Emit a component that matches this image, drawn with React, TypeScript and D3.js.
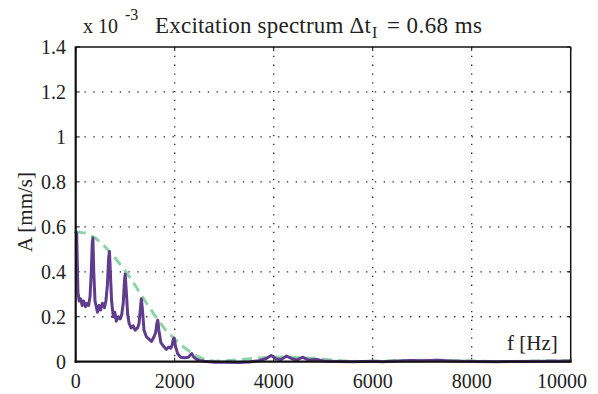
import React from "react";
import * as d3 from "d3";

const measFreq = [0, 20, 45, 70, 100, 130, 160, 200, 230, 260, 290, 315, 335, 348, 365, 390, 420, 440, 470, 500, 540, 580, 610, 640, 665, 682, 700, 725, 760, 790, 820, 860, 900, 930, 960, 985, 1000, 1020, 1050, 1080, 1120, 1160, 1200, 1250, 1280, 1305, 1325, 1345, 1380, 1430, 1480, 1530, 1580, 1615, 1640, 1658, 1680, 1720, 1770, 1830, 1880, 1920, 1950, 1972, 1988, 2015, 2060, 2120, 2200, 2280, 2315, 2345, 2380, 2430, 2500, 2600, 2700, 2800, 3000, 3300, 3500, 3700, 3850, 3950, 4050, 4150, 4260, 4380, 4480, 4580, 4700, 4870, 5000, 5300, 5600, 6000, 6200, 6500, 6800, 7000, 7300, 7600, 8000, 8500, 9000, 9500, 10000];
const measAmp = [0.58, 0.57, 0.31, 0.27, 0.28, 0.25, 0.27, 0.245, 0.26, 0.25, 0.29, 0.40, 0.53, 0.55, 0.40, 0.27, 0.24, 0.22, 0.25, 0.23, 0.26, 0.24, 0.27, 0.34, 0.46, 0.49, 0.40, 0.27, 0.20, 0.22, 0.18, 0.20, 0.19, 0.21, 0.26, 0.36, 0.39, 0.32, 0.21, 0.17, 0.15, 0.16, 0.14, 0.15, 0.17, 0.23, 0.28, 0.24, 0.14, 0.11, 0.10, 0.09, 0.11, 0.13, 0.17, 0.185, 0.14, 0.085, 0.07, 0.055, 0.065, 0.06, 0.075, 0.10, 0.105, 0.07, 0.035, 0.02, 0.018, 0.02, 0.03, 0.036, 0.022, 0.012, 0.006, 0.002, 0.0, -0.002, -0.003, -0.004, -0.001, 0.004, 0.014, 0.028, 0.012, 0.01, 0.025, 0.012, 0.008, 0.02, 0.008, 0.01, 0.003, 0.001, 0.0, 0.002, 0.0, 0.003, 0.005, 0.004, 0.006, 0.003, 0.001, 0.0, 0.001, 0.002, 0.003];

const envFreq = [0, 200, 400, 600, 800, 1000, 1200, 1400, 1600, 1800, 2000, 2200, 2400, 2600, 2800, 3000, 3300, 3600, 3900, 4200, 4500, 4800, 5100, 5400, 5700, 6000, 6500, 7000, 7500, 8000, 8400, 8800, 9200, 9600, 10000];
const envAmp = [0.578, 0.572, 0.55, 0.51, 0.46, 0.405, 0.34, 0.27, 0.205, 0.145, 0.10, 0.062, 0.03, 0.01, 0.002, 0.003, 0.009, 0.015, 0.019, 0.021, 0.019, 0.015, 0.009, 0.004, 0.001, 0.002, 0.005, 0.007, 0.006, 0.004, 0.001, 0.001, 0.003, 0.004, 0.004];

const xTicks = [0, 2000, 4000, 6000, 8000, 10000];
const yTicks = [0, 0.2, 0.4, 0.6, 0.8, 1, 1.2, 1.4];

const W = 598, H = 394;
const L = 75.7, R = 570.7, T = 47, B = 361.7;

export default function App() {
  const x = d3.scaleLinear().domain([0, 10000]).range([L, R]);
  const y = d3.scaleLinear().domain([0, 1.4]).range([B, T]);
  const line = d3.line<[number, number]>().x(d => x(d[0])).y(d => y(d[1]));
  const meas = line(measFreq.map((f, i) => [f, measAmp[i]]) as [number, number][]) || "";
  const env = line(envFreq.map((f, i) => [f, envAmp[i]]) as [number, number][]) || "";
  const font = "'Liberation Serif', 'Times New Roman', serif";
  const fs = 20;
  return (
    <svg width={W} height={H} style={{ position: "absolute", left: 0, top: 0, background: "#fff" }} fontFamily={font}>
      <rect x={0} y={0} width={W} height={H} fill="#fff" />
      {xTicks.slice(1, -1).map(t => (
        <line key={"gx" + t} x1={x(t)} x2={x(t)} y1={T} y2={B} stroke="#222" strokeWidth={1.3} strokeDasharray="1.3,7.5" />
      ))}
      {yTicks.slice(1, -1).map(t => (
        <line key={"gy" + t} x1={L} x2={R} y1={y(t)} y2={y(t)} stroke="#222" strokeWidth={1.3} strokeDasharray="1.3,7.5" />
      ))}
      {xTicks.map((t, i) => (
        <g key={"tx" + t}>
          <line x1={x(t)} x2={x(t)} y1={B} y2={B - 4} stroke="#111" strokeWidth={1} />
          <line x1={x(t)} x2={x(t)} y1={T} y2={T + 4} stroke="#111" strokeWidth={1} />
          <text x={i === xTicks.length - 1 ? 587 : x(t)} y={388} fontSize={fs} textAnchor={i === xTicks.length - 1 ? "end" : "middle"} fill="#222">{t}</text>
        </g>
      ))}
      {yTicks.map(t => (
        <g key={"ty" + t}>
          <line x1={L} x2={L + 4} y1={y(t)} y2={y(t)} stroke="#111" strokeWidth={1} />
          <line x1={R} x2={R - 4} y1={y(t)} y2={y(t)} stroke="#111" strokeWidth={1} />
          <text x={66} y={y(t) + 7} fontSize={fs} textAnchor="end" fill="#222">{d3.format("~g")(t)}</text>
        </g>
      ))}
      <path d={env} fill="none" stroke="#8fd4a8" strokeWidth={3} strokeDasharray="10,6" />
      <path d={meas} fill="none" stroke="#603c8d" strokeWidth={3} strokeLinejoin="round" />
      <line x1={L} x2={R} y1={T} y2={T} stroke="#111" strokeWidth={1.5} />
      <line x1={R} x2={R} y1={T} y2={B} stroke="#111" strokeWidth={1.5} />
      <line x1={L} x2={L} y1={T - 0.5} y2={B + 1} stroke="#111" strokeWidth={2.2} />
      <line x1={L - 1} x2={R + 1} y1={B} y2={B} stroke="#111" strokeWidth={2.2} />
      <text x={83} y={33} fontSize={20} fill="#222">x 10</text>
      <text x={125} y={20} fontSize={16} fill="#222">-3</text>
      <text x={155} y={33} fontSize={23} fill="#222" textLength={216} lengthAdjust="spacing">Excitation spectrum Δt</text>
      <text x={372} y={38} fontSize={16} fill="#222">I</text>
      <text x={387} y={33} fontSize={23} fill="#222" textLength={95} lengthAdjust="spacing">= 0.68 ms</text>
      <text x={507} y={350} fontSize={21} fill="#222">f [Hz]</text>
      <text transform={`translate(32,212) rotate(-90)`} fontSize={21} textAnchor="middle" fill="#222">A [mm/s]</text>
    </svg>
  );
}
